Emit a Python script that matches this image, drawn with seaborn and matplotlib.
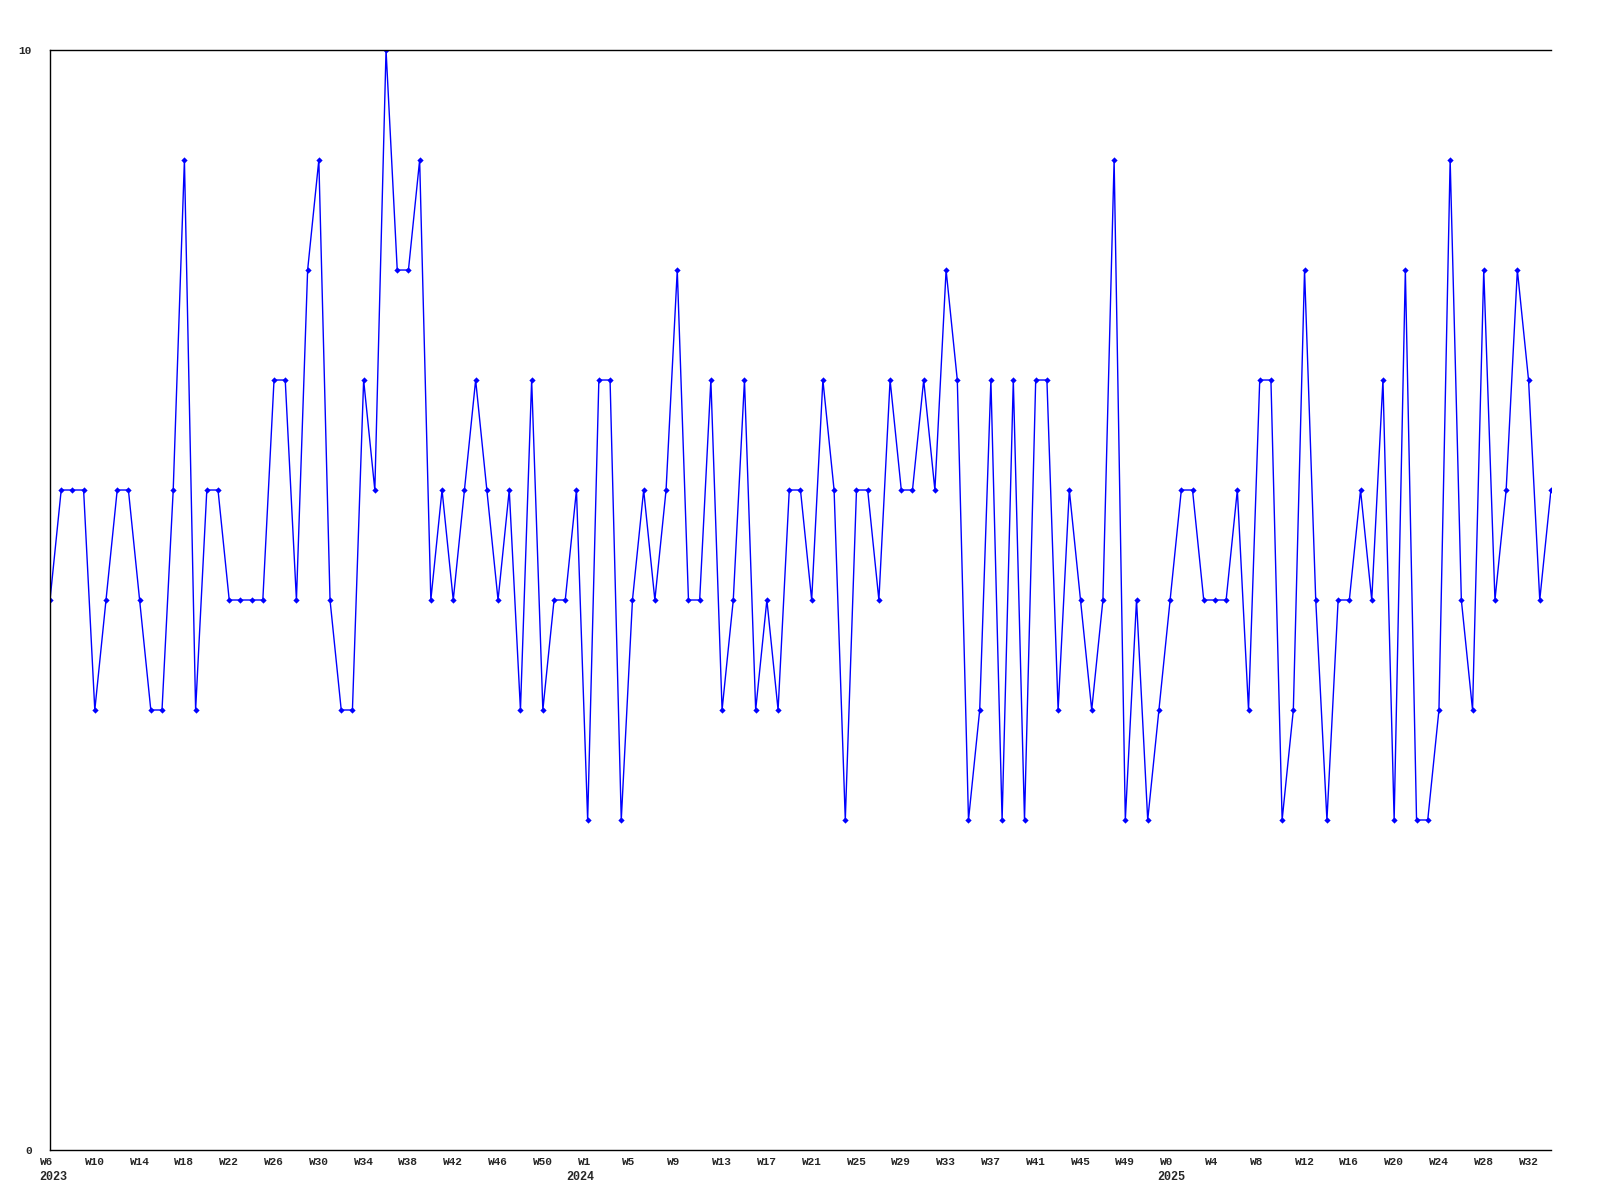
import matplotlib
matplotlib.use("Agg")
import matplotlib.pyplot as plt
import matplotlib.transforms as mtransforms
import seaborn as sns
import pandas as pd

# weekly values, one per week starting at W6 2023
values = [
    5, 6, 6, 6, 4, 5, 6, 6, 5, 4,
    4, 6, 9, 4, 6, 6, 5, 5, 5, 5,
    7, 7, 5, 8, 9, 5, 4, 4, 7, 6,
    10, 8, 8, 9, 5, 6, 5, 6, 7, 6,
    5, 6, 4, 7, 4, 5, 5, 6, 3, 7,
    7, 3, 5, 6, 5, 6, 8, 5, 5, 7,
    4, 5, 7, 4, 5, 4, 6, 6, 5, 7,
    6, 3, 6, 6, 5, 7, 6, 6, 7, 6,
    8, 7, 3, 4, 7, 3, 7, 3, 7, 7,
    4, 6, 5, 4, 5, 9, 3, 5, 3, 4,
    5, 6, 6, 5, 5, 5, 6, 4, 7, 7,
    3, 4, 8, 5, 3, 5, 5, 6, 5, 7,
    3, 8, 3, 3, 4, 9, 5, 4, 8, 5,
    6, 8, 7, 5, 6,
]

# tick labels, one every fourth week
week_labels = [
    "W6", "W10", "W14", "W18", "W22", "W26", "W30", "W34", "W38", "W42", "W46", "W50",
    "W1", "W5", "W9", "W13", "W17", "W21", "W25", "W29", "W33", "W37", "W41", "W45", "W49",
    "W0", "W4", "W8", "W12", "W16", "W20", "W24", "W28", "W32",
]
years = ["2023", "2024", "2025"]
year_pos = [0.25, 47.3, 100.1]  # week index where each year label sits
y_ticks = [0, 10]

df = pd.DataFrame({"week": range(len(values)), "value": values})

sns.set_style("white")
plt.rcParams["font.family"] = ["Liberation Mono", "DejaVu Sans Mono"]
plt.rcParams["font.weight"] = "bold"

fig = plt.figure(figsize=(16, 12), dpi=100)
ax = fig.add_axes([0.03125, 0.0417, 0.9381, 0.9166])

sns.lineplot(data=df, x="week", y="value", ax=ax, color="#0000ff", linewidth=1,
             marker="D", markersize=3.2, markeredgewidth=0, markerfacecolor="#0000ff")

ax.set_xlim(0, len(values) - 1)
ax.set_ylim(0, 10)
ax.set_xlabel("")
ax.set_ylabel("")

tick_pos = list(range(0, len(values), 4))[:len(week_labels)]
ax.set_xticks(tick_pos)
ax.set_xticklabels(week_labels, fontsize=8, fontweight="bold", ha="left")
ax.set_yticks(y_ticks)
ax.set_yticklabels([str(v) for v in y_ticks], fontsize=8, fontweight="bold")
ax.tick_params(axis="x", length=0, pad=5)
ax.tick_params(axis="y", length=0, pad=13)

shift = mtransforms.ScaledTranslation(-10 / 100, 0, fig.dpi_scale_trans)
for lab in ax.get_xticklabels():
    lab.set_transform(lab.get_transform() + shift)

# year line under the week labels
year_tr = ax.get_xaxis_transform() + mtransforms.ScaledTranslation(0, -27 / 100, fig.dpi_scale_trans)
for yr, xp in zip(years, year_pos):
    ax.text(xp, 0, yr, transform=year_tr, ha="center", va="center",
            fontsize=8.5, fontweight="bold")

for side in ["left", "bottom", "top"]:
    ax.spines[side].set_visible(True)
    ax.spines[side].set_color("black")
    ax.spines[side].set_linewidth(1)
ax.spines["right"].set_visible(False)
ax.grid(False)

fig.savefig("out.png", dpi=100)
